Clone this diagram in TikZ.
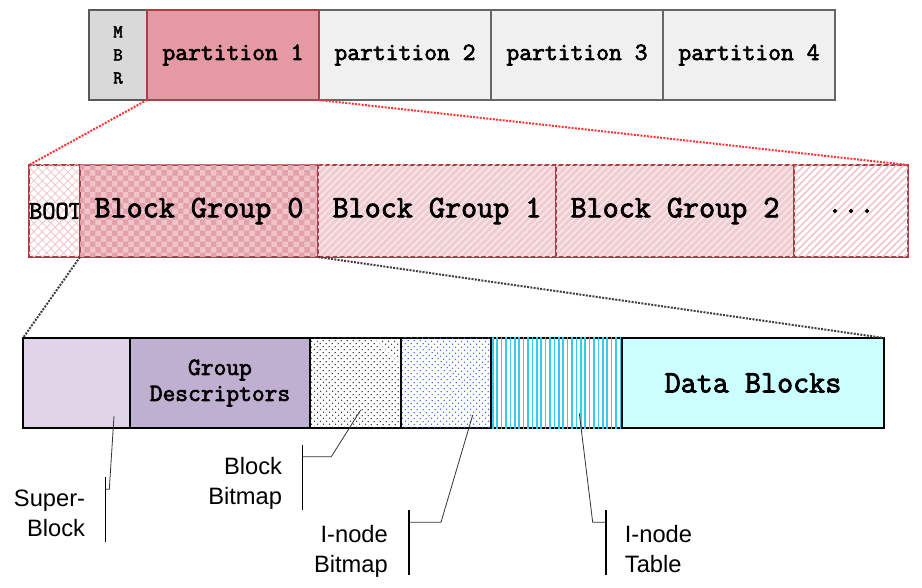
\documentclass[tikz,border=0pt]{standalone}
\usepackage{fontspec}
\setmonofont{Latin Modern Mono}[AutoFakeBold=2.6]
\setsansfont{Liberation Sans}
\usepackage{xcolor}
\usepackage{tikz}
\usetikzlibrary{patterns}
\usetikzlibrary{patterns.meta}

\definecolor{mbrgray}{HTML}{D9D9D9}
\definecolor{partgray}{HTML}{F0F0F0}
\definecolor{partred}{HTML}{E59AA3}
\definecolor{darkred}{HTML}{A8404A}
\definecolor{grppink}{HTML}{F0CDD2}
\definecolor{stripepink}{HTML}{F9E6E8}
\definecolor{hatchpink}{HTML}{F2C4CA}
\definecolor{chkbase}{HTML}{F0C4CA}
\definecolor{chkpink}{HTML}{E3A1AA}
\definecolor{sbpurple}{HTML}{E0D5E8}
\definecolor{gdpurple}{HTML}{BFAFD1}
\definecolor{itcyan}{HTML}{33CCF0}
\definecolor{ibblue}{HTML}{3366DD}
\definecolor{datacyan}{HTML}{CCFFFF}
\definecolor{zoomred}{HTML}{FF3333}

\begin{document}
\begin{tikzpicture}[x=1pt,y=-1pt]
	\useasboundingbox (0,0) rectangle (922,588);
	\tikzstyle{blk}=[draw,rectangle,inner sep=0pt,outer sep=0pt]
	\tikzstyle{part}=[blk,draw=black!60,line width=1.5pt,fill=partgray,minimum width=172pt,minimum height=90pt,font=\ttfamily\bfseries\fontsize{24.9}{29}\selectfont]
	\tikzstyle{grp}=[blk,draw=darkred,line width=2pt,minimum width=238pt,minimum height=92pt,font=\ttfamily\bfseries\fontsize{31.2}{36}\selectfont]
	\tikzstyle{fsblk}=[blk,draw=black,line width=2pt,minimum height=90pt,font=\ttfamily\bfseries\fontsize{24.8}{26}\selectfont]
	\tikzstyle{lbl}=[inner sep=0pt,font=\sffamily\fontsize{23.7}{30}\selectfont]
	\tikzstyle{lead}=[line width=0.8pt,black!80]
	\tikzstyle{bar}=[line width=1.6pt,black]
	% disk with MBR and four partitions
	\node[blk,draw=black!65,line width=1.5pt,fill=mbrgray,minimum width=58pt,minimum height=90pt,align=center,font=\ttfamily\bfseries\fontsize{18.3}{23}\selectfont] (mbr) at (118,55) {M\\B\\R};
	\node[part] (p2) at (405,55) {partition 2};
	\node[part] (p3) at (577,55) {partition 3};
	\node[part] (p4) at (749,55) {partition 4};
	\node[part,fill=partred,draw=darkred] (p1) at (233,55) {partition 1};
	% partition 1 split in block groups
	\node[grp,minimum width=49pt,fill=white,postaction={pattern={Hatch[angle=45,distance=6pt,line width=0.8pt]},pattern color=hatchpink},font=\ttfamily\bfseries\fontsize{25.6}{28}\selectfont] (boot) at (55.5,211) {BOOT};
	\node[grp,fill=chkbase,postaction={pattern=checkerboard,pattern color=chkpink}] (bg0) at (199,211) {Block Group 0};
	\node[grp,fill=grppink,postaction={pattern={Lines[angle=45,distance=5pt,line width=1.6pt]},pattern color=stripepink}] (bg1) at (437,211) {Block Group 1};
	\node[grp,fill=grppink,postaction={pattern={Lines[angle=45,distance=5pt,line width=1.6pt]},pattern color=stripepink}] (bg2) at (675,211) {Block Group 2};
	\node[grp,minimum width=114pt,fill=white,postaction={pattern={Lines[angle=45,distance=5pt,line width=1.6pt]},pattern color=hatchpink}] (more) at (851,211) {...};
	% block group 0 in detail
	\node[fsblk,minimum width=107pt,fill=sbpurple] (sb) at (76.5,383) {};
	\node[fsblk,minimum width=180pt,fill=gdpurple,align=center] (gd) at (220,383) {Group\\Descriptors};
	\node[fsblk,minimum width=91pt,fill=white,postaction={pattern={Dots[angle=45,distance=4pt,radius=0.8pt]},pattern color=black!80}] (bbm) at (355.5,383) {};
	\node[fsblk,minimum width=90pt,fill=white,postaction={pattern={Dots[angle=45,distance=4pt,radius=0.8pt]},pattern color=ibblue}] (ibm) at (446,383) {};
	\node[fsblk,minimum width=131pt,fill=white,postaction={pattern={Lines[angle=90,distance=4.4pt,line width=1.6pt]},pattern color=itcyan}] (itab) at (556.5,383) {};
	\node[fsblk,minimum width=262pt,fill=datacyan,font=\ttfamily\bfseries\fontsize{31.2}{36}\selectfont] (data) at (753,383) {Data Blocks};
	% zoom lines
	\draw[zoomred,line width=2pt,dash pattern=on 2pt off 1.3pt] (p1.south west) -- (boot.north west) (p1.south east) -- (more.north east);
	\draw[black!75,line width=2pt,dash pattern=on 2pt off 1.3pt] (bg0.south west) -- (sb.north west) (bg0.south east) -- (data.north east);
	% callouts
	\coordinate (sbp) at (114,416);
	\coordinate (sbk) at (105.3,489.3);
	\coordinate (bbp) at (360.7,410);
	\coordinate (bbk) at (302.3,456.7);
	\coordinate (ibp) at (472.7,415);
	\coordinate (ibk) at (409,522.3);
	\coordinate (itp) at (579.3,413.3);
	\coordinate (itk) at (605.7,522.3);
	\draw[lead] (sbp) -- ([xshift=4pt]sbk) -- (sbk);
	\draw[lead] (bbp) -- ([xshift=29pt]bbk) -- (bbk);
	\draw[lead] (ibp) -- ([xshift=32pt]ibk) -- (ibk);
	\draw[lead] (itp) -- ([xshift=-13pt]itk) -- (itk);
	\draw[bar] ([yshift=12pt]sbk) -- ([yshift=-53pt]sbk);
	\draw[bar] ([yshift=12pt]bbk) -- ([yshift=-53pt]bbk);
	\draw[bar] ([yshift=12pt]ibk) -- ([yshift=-53pt]ibk);
	\draw[bar] ([yshift=12pt]itk) -- ([yshift=-53pt]itk);
	\node[lbl,anchor=north east,align=right] (sbl) at ([xshift=-20pt]sbk) {Super-\\Block};
	\node[lbl,anchor=north east,align=right] (bbl) at ([xshift=-20pt]bbk) {Block\\Bitmap};
	\node[lbl,anchor=north east,align=right] (ibl) at ([xshift=-21pt,yshift=-3pt]ibk) {I-node\\Bitmap};
	\node[lbl,anchor=north west,align=left] (itl) at ([xshift=19pt,yshift=-3pt]itk) {I-node\\Table};
\end{tikzpicture}
\end{document}
